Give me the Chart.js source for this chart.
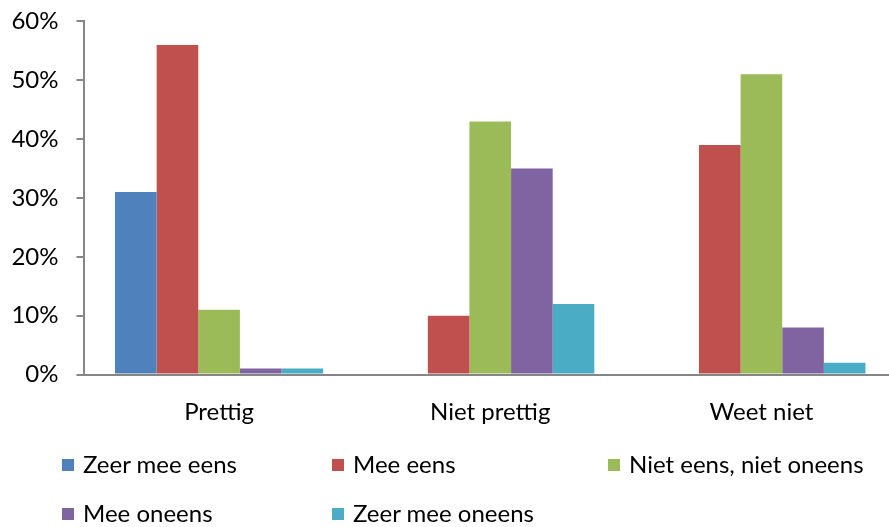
<!DOCTYPE html>
<html>
<head>
<meta charset="utf-8">
<script src="https://cdn.jsdelivr.net/npm/chart.js@4"></script>
<style>
  html, body { margin: 0; padding: 0; background: #fff; }
  body { width: 889px; height: 527px; overflow: hidden; position: relative; font-family: Lato, "Open Sans", sans-serif; }
  #wrap { position: absolute; left: 0; top: -11px; width: 897px; height: 451px; }
  #legend { position: absolute; left: 0; top: 0; width: 889px; height: 527px; pointer-events: none; }
  .li { position: absolute; font-size: 24px; color: #000; white-space: nowrap; line-height: 1; }
  .sw { position: absolute; width: 12px; height: 12px; }
</style>
</head>
<body>
<div id="wrap"><canvas id="c" width="897" height="451"></canvas></div>
<div id="legend"></div>
<script>
const categories = ["Prettig", "Niet prettig", "Weet niet"];
const seriesNames = ["Zeer mee eens", "Mee eens", "Niet eens, niet oneens", "Mee oneens", "Zeer mee oneens"];
const zeerMeeEens   = [31, 0, 0];
const meeEens       = [56, 10, 39];
const nietEensNiet  = [11, 43, 51];
const meeOneens     = [1, 35, 8];
const zeerMeeOneens = [1, 12, 2];
const yTicks = [0, 10, 20, 30, 40, 50, 60];
const colors = ["#4F81BD", "#C0504D", "#9BBB59", "#8064A2", "#4BACC6"];

const values = [zeerMeeEens, meeEens, nietEensNiet, meeOneens, zeerMeeOneens];

const chart = new Chart(document.getElementById('c'), {
  type: 'bar',
  data: {
    labels: categories,
    datasets: seriesNames.map((n, i) => ({
      label: n,
      data: values[i],
      backgroundColor: colors[i],
      borderWidth: 0,
      categoryPercentage: 0.7675,
      barPercentage: 1.0
    }))
  },
  options: {
    responsive: false,
    animation: false,
    devicePixelRatio: 1,
    layout: { padding: { top: 0, right: 0, bottom: 0, left: 0 } },
    plugins: { legend: { display: false }, tooltip: { enabled: false } },
    scales: {
      x: {
        grid: { display: false },
        border: { display: true, color: '#868686', width: 2 },
        ticks: { color: '#000', font: { family: 'Lato', size: 24 }, padding: 15 },
        afterFit: s => { s.height = 65.5; }
      },
      y: {
        min: 0, max: 60,
        afterBuildTicks: s => { s.ticks = yTicks.map(v => ({ value: v })); },
        grid: { drawOnChartArea: false, drawTicks: true, tickLength: 7, color: '#868686', lineWidth: 2 },
        border: { display: true, color: '#868686', width: 2 },
        ticks: { color: '#000', font: { family: 'Lato', size: 24 }, padding: 18, callback: v => v + '%' },
        afterFit: s => { s.width = 83.5; }
      }
    }
  }
});

// HTML legend built from the series arrays
const legendPos = [
  { x: 62, y: 465 }, { x: 332, y: 465 }, { x: 608, y: 465 },
  { x: 62, y: 514 }, { x: 332, y: 514 }
];
const lg = document.getElementById('legend');
seriesNames.forEach((n, i) => {
  const sw = document.createElement('div');
  sw.className = 'sw';
  sw.style.background = colors[i];
  sw.style.left = legendPos[i].x + 'px';
  sw.style.top = (legendPos[i].y - 6) + 'px';
  lg.appendChild(sw);
  const t = document.createElement('div');
  t.className = 'li';
  t.textContent = n;
  t.style.left = (legendPos[i].x + 21) + 'px';
  t.style.top = (legendPos[i].y - 13) + 'px';
  lg.appendChild(t);
});
</script>
</body>
</html>
